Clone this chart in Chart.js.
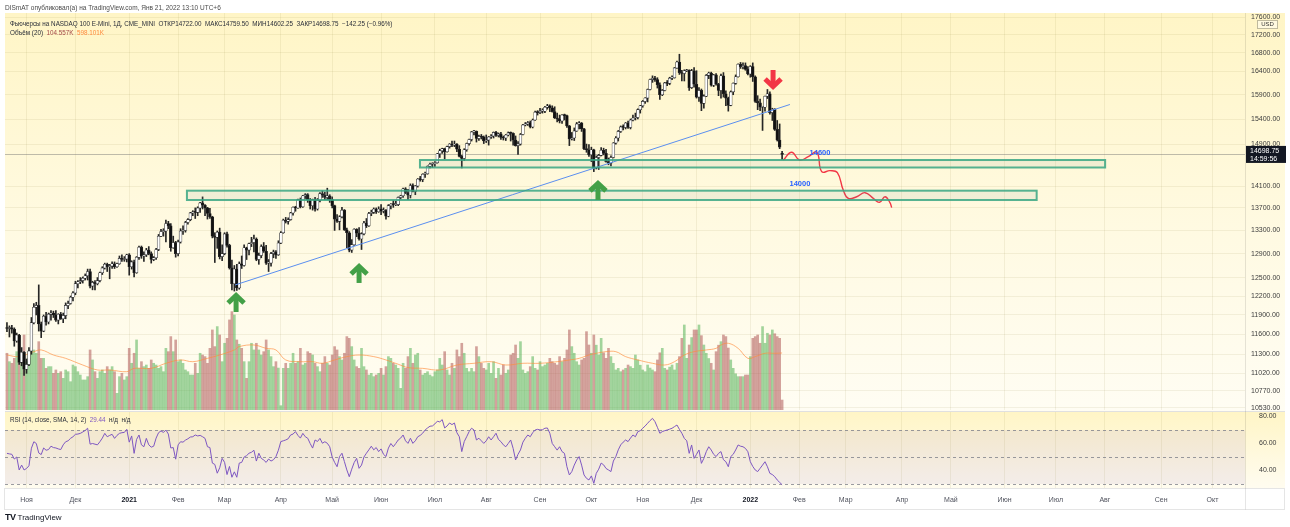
<!DOCTYPE html>
<html lang="ru"><head><meta charset="utf-8"><title>NQ1! daily</title>
<script src="https://cdn.jsdelivr.net/npm/chart.js@4.4.1/dist/chart.umd.min.js"></script>
<style>
html,body{margin:0;padding:0;background:#fff;}
#wrap{position:relative;width:1290px;height:527px;overflow:hidden;background:#fff;font-family:"Liberation Sans",Arial,sans-serif;}
canvas{position:absolute;left:0;}
#cA{top:0;width:1290px;height:411px;}
#cB{top:411px;width:1290px;height:116px;}
.t{position:absolute;white-space:nowrap;font-size:6.5px;line-height:9px;color:#2a2e39;}
</style></head>
<body>
<div id="wrap">
<canvas id="cA" width="1290" height="411"></canvas>
<canvas id="cB" width="1290" height="116"></canvas>
<div class="t" style="left:5px;top:3px;color:#4a4a4a">DISmAT опубликовал(а) на TradingView.com, Янв 21, 2022 13:10 UTC+6</div>
<div class="t" style="left:10px;top:18.5px;font-size:6.3px">Фьючерсы на NASDAQ 100 E-Mini, 1Д, CME_MINI&nbsp;&nbsp;ОТКР14722.00&nbsp;&nbsp;МАКС14759.50&nbsp;&nbsp;МИН14602.25&nbsp;&nbsp;ЗАКР14698.75&nbsp;&nbsp;−142.25 (−0.96%)</div>
<div class="t" style="left:10px;top:27.5px;font-size:6.3px">Объём (20)&nbsp;&nbsp;<span style="color:#a34848">104.557K</span>&nbsp;&nbsp;<span style="color:#ff8a3d">598.101K</span></div>
<div class="t" style="left:10px;top:414.5px;font-size:6.3px">RSI (14, close, SMA, 14, 2)&nbsp;&nbsp;<span style="color:#7e57c2">29.44</span>&nbsp;&nbsp;н/д&nbsp;&nbsp;н/д</div>
<div class="t" style="left:5px;top:512px;font-size:8px;line-height:10px;color:#131722"><b style="font-size:9px;letter-spacing:-0.5px">TV</b> TradingView</div>
</div>
<script>
const FONT = "'Liberation Sans', Arial, sans-serif";

// ---------- data (daily bars, Oct 21 2020 .. Jan 21 2022) ----------
const opens = [
11700,11690,11700,11680,11500,11590,11180,11330,11080,11150,
11350,11780,12020,12050,11760,11650,11880,11790,11910,11930,
11900,11820,11910,11840,11890,12050,12080,12180,12250,12400,
12430,12450,12490,12530,12600,12360,12420,12400,12450,12580,
12660,12720,12680,12690,12730,12680,12730,12820,12800,12810,
12880,12680,12760,12580,12840,13010,12860,12880,12960,12900,
12800,12830,12970,13200,13280,13290,13420,13380,13000,13090,
12900,13100,13290,13300,13440,13490,13610,13630,13620,13700,
13790,13750,13700,13600,13540,13200,13180,13270,12850,12900,
13240,13040,12660,12400,12640,12330,12730,12700,13000,12960,
13070,13090,13150,12800,12870,13020,12940,12740,12740,12900,
12930,12880,13080,13260,13480,13460,13490,13610,13710,13700,
13850,13720,13920,13940,13850,13740,13850,13680,13840,13960,
13930,13890,13920,13850,13740,13500,13460,13540,13660,13310,
13260,12960,13050,13320,13250,13150,13240,13430,13380,13600,
13620,13680,13630,13680,13640,13660,13550,13740,13770,13760,
13760,13890,13920,14050,13980,13930,14110,14000,14100,14230,
14220,14320,14330,14470,14510,14520,14540,14710,14770,14810,
14750,14850,14900,14880,14900,14800,14660,14620,14790,14910,
14990,15140,15150,15010,15050,15040,14960,14980,15040,15060,
15130,15070,15100,15030,15020,15080,15120,15110,14980,14870,
14900,15090,15280,15300,15330,15240,15380,15540,15530,15560,
15560,15640,15670,15630,15550,15420,15400,15360,15480,15470,
15260,15000,15020,15160,15300,15320,15200,14810,14790,14690,
14790,14440,14640,14680,14780,14720,14560,14530,14640,14920,
15020,15150,15240,15230,15320,15230,15380,15420,15430,15590,
15670,15760,15830,16010,16220,16250,16220,16110,15900,15990,
16150,16140,16250,16260,16470,16600,16370,16350,16410,16420,
16050,16410,16120,15850,15990,15720,15870,16310,16360,16100,
16320,16120,15990,16300,15920,15830,15680,15960,16140,16280,
16550,16500,16520,16440,16340,16500,16280,15760,15730,15640,
15640,15870,15920,15530,15600,15190,14980,14722];
const highs = [
11780,11730,11740,11700,11620,11600,11400,11340,11230,11400,
11860,12080,12100,12380,11790,11900,11940,11930,11970,11960,
11970,11920,11940,11930,12090,12120,12200,12270,12440,12450,
12500,12510,12560,12640,12640,12440,12450,12500,12590,12680,
12740,12740,12720,12760,12760,12740,12860,12880,12850,12890,
12900,12780,12790,12850,13030,13030,12930,12990,13020,12930,
12850,12990,13230,13320,13330,13480,13460,13420,13200,13110,
13130,13330,13380,13460,13510,13620,13650,13700,13720,13800,
13900,13760,13710,13690,13550,13260,13290,13340,13050,13260,
13270,13060,12790,12700,12720,12760,12860,13050,13010,13080,
13180,13220,13170,12910,13050,13090,13040,12800,12920,12960,
12950,13120,13280,13500,13530,13520,13620,13720,13730,13860,
13880,13930,13960,13960,13870,13860,13890,13870,13980,14010,
13990,14060,13940,13900,13750,13580,13560,13710,13670,13340,
13280,13140,13330,13330,13350,13260,13460,13510,13620,13660,
13700,13700,13720,13760,13700,13670,13760,13780,13830,13820,
13900,13930,14060,14070,14040,14140,14140,14110,14240,14280,
14330,14360,14480,14530,14540,14560,14720,14800,14820,14820,
14860,14910,14960,14960,14910,14870,14680,14810,14920,15000,
15150,15170,15160,15080,15090,15060,15080,15050,15090,15140,
15150,15120,15130,15060,15090,15140,15140,15120,15060,14950,
15110,15290,15330,15350,15360,15400,15560,15570,15620,15610,
15660,15700,15690,15670,15650,15520,15480,15490,15500,15480,
15270,15130,15220,15330,15350,15330,15210,14900,14890,14840,
14800,14670,14700,14830,14820,14800,14630,14670,14930,15050,
15170,15260,15280,15330,15360,15400,15480,15520,15610,15680,
15780,15840,16020,16230,16300,16290,16260,16150,16010,16160,
16200,16270,16300,16480,16620,16770,16420,16430,16440,16430,
16440,16480,16410,16050,16020,15900,16330,16380,16380,16330,
16350,16140,16340,16370,15980,15850,15980,16150,16320,16560,
16590,16580,16580,16500,16520,16580,16300,15880,15810,15660,
15870,16010,15960,15620,15610,15370,15300,14759.5];
const lows = [
11640,11560,11620,11420,11480,11150,11130,10990,11020,11130,
11300,11760,11900,11650,11550,11640,11740,11760,11820,11860,
11800,11760,11830,11780,11840,12000,12070,12120,12220,12330,
12400,12410,12460,12460,12330,12300,12300,12380,12430,12550,
12640,12600,12480,12650,12650,12670,12720,12770,12770,12760,
12540,12640,12510,12570,12800,12820,12770,12850,12880,12740,
12780,12800,12950,13190,13200,13100,13330,12940,12990,12840,
12860,13080,13230,13270,13410,13470,13560,13510,13560,13620,
13680,13560,13500,13510,13170,12750,12990,12810,12780,12880,
13010,12640,12300,12280,12290,12310,12650,12690,12800,12880,
13020,12930,12780,12720,12830,12920,12720,12600,12690,12830,
12820,12870,13070,13250,13430,13410,13480,13570,13640,13690,
13700,13710,13870,13800,13680,13660,13640,13660,13810,13890,
13850,13850,13800,13700,13300,13440,13310,13520,13300,13000,
12930,12920,13040,13190,13130,12970,13220,13350,13370,13560,
13600,13600,13620,13580,13610,13500,13540,13680,13710,13740,
13740,13860,13890,13960,13850,13880,13990,13940,14080,14190,
14180,14260,14320,14440,14450,14470,14530,14640,14720,14610,
14740,14820,14850,14850,14750,14650,14440,14580,14760,14880,
14960,15080,14940,14970,15000,14910,14930,14880,15010,15020,
15050,15040,14990,14980,14970,15060,14960,14880,14860,14700,
14880,15080,15260,15270,15220,15220,15370,15480,15510,15520,
15530,15600,15550,15540,15410,15340,15320,15310,15380,15230,
14870,14980,14970,15150,15200,15150,14790,14740,14660,14560,
14370,14420,14410,14670,14690,14550,14500,14480,14630,14900,
14960,15130,15180,15200,15210,15200,15360,15380,15400,15520,
15640,15720,15750,16000,16160,16180,16040,15800,15880,15980,
16090,16110,16220,16250,16460,16330,16190,16190,16390,15990,
16030,16060,15830,15760,15570,15620,15860,16240,16080,16070,
16100,15880,15830,15850,15670,15560,15670,15900,16120,16270,
16460,16450,16420,16320,16270,16180,15740,15590,15570,15170,
15560,15820,15500,15370,15170,14960,14810,14602.25];
const closes = [
11690,11700,11680,11500,11590,11180,11330,11080,11150,11350,
11780,12020,12050,11760,11650,11880,11790,11910,11930,11900,
11820,11910,11840,11890,12050,12080,12180,12250,12400,12430,
12450,12490,12530,12600,12360,12420,12400,12450,12580,12660,
12720,12680,12690,12730,12680,12730,12820,12800,12810,12880,
12680,12760,12580,12840,13010,12860,12880,12960,12900,12800,
12830,12970,13200,13280,13290,13420,13380,13000,13090,12900,
13100,13290,13300,13440,13490,13610,13630,13620,13700,13790,
13750,13700,13600,13540,13200,13180,13270,12850,12900,13240,
13040,12660,12400,12640,12330,12730,12700,13000,12960,13070,
13090,13150,12800,12870,13020,12940,12740,12740,12900,12930,
12880,13080,13260,13480,13460,13490,13610,13710,13700,13850,
13720,13920,13940,13850,13740,13850,13680,13840,13960,13930,
13890,13920,13850,13740,13500,13460,13540,13660,13310,13260,
12960,13050,13320,13250,13150,13240,13430,13380,13600,13620,
13680,13630,13680,13640,13660,13550,13740,13770,13760,13760,
13890,13920,14050,13980,13930,14110,14000,14100,14230,14220,
14320,14330,14470,14510,14520,14540,14710,14770,14810,14750,
14850,14900,14880,14900,14800,14660,14620,14790,14910,14990,
15140,15150,15010,15050,15040,14960,14980,15040,15060,15130,
15070,15100,15030,15020,15080,15120,15110,14980,14870,14900,
15090,15280,15300,15330,15240,15380,15540,15530,15560,15560,
15640,15670,15630,15550,15420,15400,15360,15480,15470,15260,
15000,15020,15160,15300,15320,15200,14810,14790,14690,14790,
14440,14640,14680,14780,14720,14560,14530,14640,14920,15020,
15150,15240,15230,15320,15230,15380,15420,15430,15590,15670,
15760,15830,16010,16220,16250,16220,16110,15900,15990,16150,
16140,16250,16260,16470,16600,16370,16350,16410,16420,16050,
16410,16120,15850,15990,15720,15870,16310,16360,16100,16320,
16120,15990,16300,15920,15830,15680,15960,16140,16280,16550,
16500,16520,16440,16340,16500,16280,15760,15730,15640,15640,
15870,15920,15530,15600,15190,14980,14841,14698.75];
// volume, thousands of contracts
const volumes = [
595,507,490,542,612,770,595,787,507,542,
630,630,595,717,542,542,437,455,455,385,
420,385,402,332,420,402,297,472,455,402,
367,315,315,350,630,525,402,332,402,420,
385,455,420,455,402,175,350,385,315,350,
647,490,595,735,437,507,455,472,437,525,
490,472,437,455,402,647,612,770,612,735,
507,525,490,420,402,367,367,490,385,595,
577,560,490,647,840,665,875,787,507,700,
752,945,1032,997,735,690,647,507,332,507,
700,630,700,630,577,612,735,630,560,455,
507,440,45,437,490,437,490,595,490,507,
647,472,490,612,595,577,490,455,402,490,
560,490,472,577,665,630,560,525,595,770,
752,665,525,455,437,647,455,420,367,385,
350,367,385,437,367,455,560,542,490,472,
437,227,490,437,560,647,490,577,595,420,
367,385,402,367,350,402,420,542,472,612,
420,367,490,437,630,560,700,595,437,402,
437,402,665,560,490,437,420,490,385,507,
332,437,367,472,385,420,577,595,682,542,
717,420,385,402,455,560,437,420,507,455,
472,490,542,507,490,472,560,507,542,630,
840,665,595,507,472,525,542,822,682,595,
787,680,577,752,600,542,647,560,490,420,
437,402,420,437,472,455,437,577,525,470,
420,402,472,440,420,402,525,600,647,437,
420,450,472,420,490,560,752,892,542,682,
760,840,840,892,780,682,595,540,490,420,
612,680,717,787,770,650,525,437,380,350,
350,350,367,367,560,752,770,787,700,875,
700,805,787,840,800,770,752,104.557];
// volume SMA(20) (bar index, value)
const volMaIdx = [0,5,11,14,19,24,31,37,42,49,52,59,65,71,76,82,87,93,95,101,106,110,114,120,125,129,134,139,144,150,155,160,164,170,177,184,191,198,204,211,218,225,230,234,238,241,245,249,253,258,264,269,273,277,281,286,290,292,295,299,303,306,310,314,317];
const volMa = [577,560,612,630,577,542,472,420,420,402,437,437,490,525,507,542,577,630,665,682,647,630,525,507,507,490,525,560,577,560,525,480,445,437,420,472,490,507,472,490,490,507,525,542,577,595,612,612,560,525,490,472,507,577,612,630,647,682,700,647,542,560,595,595,598];
const rsi = [
52.7,52.3,52,48.5,50,40.4,44,40.4,41.5,43.5,
56.5,61.3,60,53,51.8,56.7,55,55.5,58,57,
56.7,56,55.5,59,61.3,62,63.8,65,66.8,67,
67.5,68.5,69.7,71.3,59.5,60,59.5,59,61.3,64,
67.5,65,66,66.8,63.8,66,67.5,68,68.2,70.5,
61,65.6,52.7,63,66.3,59,57.6,63.8,59,57.3,
58,64,68,69.3,68.2,70,67,56.7,57,48.4,
59,61.3,61,62.5,63.5,64.8,65,66.3,65.6,66,
65,63.8,57.6,57,45.5,44.5,38,42,49,46,
37,43,35,39,35,45.5,46,50,51,52.8,
53.5,55,47,52.8,49,47.8,46,48.5,47,48,
50.3,55,61.4,62,62.6,63.5,66.3,67,68.8,66,
64,67.5,65,63.9,60,56.6,62.6,61.5,63.8,60.2,
61.3,60.2,57.6,50,46,42.8,50.3,52.8,46.6,40.4,
35.4,41,45.9,49,41.6,44,50,52.8,55.3,58,
55.3,57,54,56,52,50.3,56.6,60,57.6,60,
62.6,64,66.3,62,60.1,63.9,60.1,62,65,66,
67.6,70,71.5,72.8,73,74.5,76.5,76,77.7,71.5,
73,75.2,74,75.2,68,65,54,61.4,65,68.8,
71.3,70,62.6,63.9,62,60.1,62,65,62.6,65,
67.6,63,61.4,59,57.6,60,62.6,56.4,47.8,52,
55.2,61,63.9,66.3,65,68,70,70.5,70,70.2,
71.3,71.5,67.6,60,57.6,55.1,57.6,54,52.7,42.8,
36.7,39.2,44,47.8,50.3,44,36.7,34.2,33,36,
30.5,37.9,41,45.5,44.2,41.5,40.4,39.2,47,50.3,
55.3,59,61,62.6,61.4,64,66.3,65,68.8,69.5,
71.3,73,75,77,78.6,76.2,72,67.6,68.8,69.5,
70,70.6,71.3,72.5,73.7,70.5,67.6,63.8,62,52.7,
58.9,49,52,55.2,45.3,49,54,57.6,55.2,52,
50.3,52.7,54,48,46.5,42.8,50.3,52,55.2,58.9,
58,57.6,56.4,53.9,46.5,43,40.4,39.2,41.6,44,
46.5,42.8,37.9,37,35.4,33,31.2,29.44];

const priceTicks = [17600,17200,16800,16400,15900,15400,14900,14100,13700,13300,12900,12500,12200,11900,11600,11300,11020,10770,10530];
const rsiTicks = [80,60,40];
const rsiLevels = [70,50,30];
const monthIdx = [8,28,50,70,89,112,133,153,175,196,218,239,260,282,304,324,343,366,386,408,429,449,472,493];
const monthLabels = ['Ноя','Дек','2021','Фев','Мар','Апр','Май','Июн','Июл','Авг','Сен','Окт','Ноя','Дек','2022','Фев','Мар','Апр','Май','Июн','Июл','Авг','Сен','Окт'];

// ---------- drawings (in bar-index / price coordinates) ----------
const trendX = [93.3, 320.2];
const trendY = [12379, 15697];
const zones = [
  {x0:168.9, x1:449.1, top:14591, bottom:14448},
  {x0:73.6,  x1:421.1, top:14014, bottom:13843}
];
const arrows = [
  {x:93.7,  y:12233, dir:'up'},
  {x:144.0, y:12709, dir:'up'},
  {x:241.7, y:14176, dir:'up'},
  {x:313.3, y:16041, dir:'down'}
];
const curveX = [317.5,320.9,324.1,327.7,331.2,333.2,336.6,339.6,342.0,344.1,347.5,350.9,354.3,356.8,359.1,361.1,361.8];
const curveY = [14591,14741,14591,14655,14741,14369,14388,14350,14026,13873,13903,13977,13873,13801,13903,13794,13705];
const textMarks = [
  {x:332.5, y:14722, text:'14600'},
  {x:324.3, y:14133, text:'14000'}
];

// ---------- chart setup ----------
Chart.defaults.font.family = FONT;
Chart.defaults.font.size = 7;
const X_MIN = -0.8, X_MAX = 506.3;
const GRID = 'rgba(140,125,60,0.10)';
const n = closes.length;
const isUp = closes.map((c,i)=> c >= opens[i]);
const noPad = s => { s.paddingTop = 0; s.paddingBottom = 0; s.paddingLeft = 0; s.paddingRight = 0; };

const paneA = {
  id:'paneA',
  beforeDraw(c){
    const x=c.ctx; x.save();
    x.fillStyle='#fff'; x.fillRect(0,0,c.width,c.height);
    const g=x.createLinearGradient(0,13,0,411);
    g.addColorStop(0,'#fff5c6'); g.addColorStop(0.55,'#fffae2'); g.addColorStop(1,'#fffdf3');
    x.fillStyle=g; x.fillRect(5,13,1280,398);
    x.restore();
  },
  beforeDatasetsDraw(c){
    const x=c.ctx, a=c.chartArea, ys=c.scales.y;
    const py=Math.round(ys.getPixelForValue(closes[n-1]))+0.5;
    x.save(); x.strokeStyle='rgba(110,110,110,0.45)'; x.lineWidth=1;
    x.beginPath(); x.moveTo(a.left,py); x.lineTo(a.right,py); x.stroke(); x.restore();
  },
  afterDatasetsDraw(c){
    const x=c.ctx, xs=c.scales.x, ys=c.scales.y;
    x.save();
    zones.forEach(z=>{
      const l=xs.getPixelForValue(z.x0), r=xs.getPixelForValue(z.x1);
      const t=ys.getPixelForValue(z.top), b=ys.getPixelForValue(z.bottom);
      x.fillStyle='rgba(120,150,150,0.10)'; x.fillRect(l,t,r-l,b-t);
      x.strokeStyle='rgba(56,166,130,0.85)'; x.lineWidth=2; x.strokeRect(l,t,r-l,b-t);
    });
    arrows.forEach(ar=>{
      const px=xs.getPixelForValue(ar.x), py=ys.getPixelForValue(ar.y);
      const s = ar.dir==='up' ? 1 : -1;
      x.strokeStyle = ar.dir==='up' ? '#43a047' : '#f23645';
      x.lineWidth=5; x.lineCap='butt'; x.lineJoin='miter';
      x.beginPath(); x.moveTo(px, py+s*3); x.lineTo(px, py+s*18); x.stroke();
      x.beginPath(); x.moveTo(px-8, py+s*9); x.lineTo(px, py+s*1.5); x.lineTo(px+8, py+s*9); x.stroke();
    });
    x.fillStyle='#2962ff'; x.font='bold 7.5px '+FONT; x.textAlign='center'; x.textBaseline='middle';
    textMarks.forEach(t=>{ x.fillText(t.text, xs.getPixelForValue(t.x), ys.getPixelForValue(t.y)); });
    x.restore();
  },
  afterDraw(c){
    const x=c.ctx, ys=c.scales.y, a=c.chartArea;
    x.save();
    x.strokeStyle='rgba(0,0,0,0.10)'; x.lineWidth=1;
    x.beginPath(); x.moveTo(a.right+0.5,13); x.lineTo(a.right+0.5,411); x.stroke();
    x.fillStyle='rgba(255,250,225,0.95)'; x.strokeStyle='rgba(0,0,0,0.25)';
    x.fillRect(1257.5,20.5,20,8); x.strokeRect(1257.5,20.5,20,8);
    x.fillStyle='#333'; x.font='6px '+FONT; x.textAlign='center'; x.textBaseline='middle';
    x.fillText('USD',1267.5,24.8);
    const py=ys.getPixelForValue(closes[n-1]);
    x.fillStyle='#131722'; x.fillRect(1246,py-8.5,40,17);
    x.fillStyle='#fff'; x.font='7px '+FONT; x.textAlign='left';
    x.fillText(closes[n-1].toFixed(2),1250,py-3.6);
    x.fillText('14:59:56',1250,py+4.4);
    x.restore();
  }
};

new Chart(document.getElementById('cA'), {
  type:'bar',
  data:{ datasets:[
    { type:'bar', data: closes.map((c,i)=>({x:i, y:[lows[i],highs[i]]})), backgroundColor:'#262626',
      barThickness:1, grouped:false, yAxisID:'y', order:3 },
    { type:'bar', data: closes.map((c,i)=>({x:i, y:[opens[i],c]})),
      backgroundColor: isUp.map(u=>u?'#ffffff':'#111111'), borderColor:'#2a2a2a', borderWidth:0.6,
      borderSkipped:false, barThickness:2.8, minBarLength:1, grouped:false, yAxisID:'y', order:2 },
    { type:'bar', data: volumes.map((v,i)=>({x:i, y:v})),
      backgroundColor: isUp.map(u=>u?'rgba(76,175,80,0.52)':'rgba(170,78,78,0.52)'),
      barThickness:2, grouped:false, yAxisID:'yv', order:10 },
    { type:'line', data: volMaIdx.map((v,k)=>({x:v, y:volMa[k]})), borderColor:'rgba(255,140,60,0.65)',
      borderWidth:1, pointRadius:0, tension:0.4, yAxisID:'yv', order:9 },
    { type:'line', data: trendX.map((v,k)=>({x:v, y:trendY[k]})), borderColor:'#5b8ff0',
      borderWidth:1, pointRadius:0, yAxisID:'y', order:1 },
    { type:'line', data: curveX.map((v,k)=>({x:v, y:curveY[k]})), borderColor:'#f23645',
      borderWidth:1.4, pointRadius:0, tension:0.45, yAxisID:'y', order:0 }
  ]},
  options:{
    responsive:false, animation:false, devicePixelRatio:1,
    layout:{padding:{left:5, top:13, right:0, bottom:1}},
    plugins:{legend:{display:false}, tooltip:{enabled:false}},
    scales:{
      x:{ type:'linear', min:X_MIN, max:X_MAX, offset:false,
          afterBuildTicks:s=>{ s.ticks = monthIdx.map(v=>({value:v})); },
          ticks:{display:false}, grid:{color:GRID, drawTicks:false, offset:false},
          border:{display:false}, afterFit:s=>{ s.height=0; noPad(s); } },
      y:{ type:'logarithmic', position:'right', min:10501, max:17705, bounds:'data',
          afterBuildTicks:s=>{ s.ticks = priceTicks.map(v=>({value:v})); },
          ticks:{ autoSkip:false, callback:v=>Number(v).toFixed(2), color:'#3c3c3c', padding:6, font:{size:7} },
          grid:{color:GRID, drawTicks:false}, border:{display:false}, afterFit:s=>{ s.width=45; noPad(s); } },
      yv:{ type:'linear', display:false, min:0, max:4165 }
    }
  },
  plugins:[paneA]
});

const paneB = {
  id:'paneB',
  beforeDraw(c){
    const x=c.ctx, a=c.chartArea, ys=c.scales.y; x.save();
    x.fillStyle='#fff'; x.fillRect(0,0,c.width,c.height);
    const g=x.createLinearGradient(0,1,0,77);
    g.addColorStop(0,'#fff5c6'); g.addColorStop(1,'#fffcf0');
    x.fillStyle=g; x.fillRect(5,1,1280,76);
    const t=ys.getPixelForValue(70), b=ys.getPixelForValue(30);
    x.fillStyle='rgba(126,87,194,0.09)'; x.fillRect(a.left,t,a.right-a.left,b-t);
    x.strokeStyle='rgba(0,0,0,0.12)'; x.lineWidth=1;
    x.beginPath(); x.moveTo(5,0.5); x.lineTo(1285,0.5); x.stroke();
    x.restore();
  },
  beforeDatasetsDraw(c){
    const x=c.ctx, a=c.chartArea, ys=c.scales.y; x.save();
    x.strokeStyle='rgba(120,123,134,0.75)'; x.lineWidth=1; x.setLineDash([3,3]);
    rsiLevels.forEach(v=>{ const py=Math.round(ys.getPixelForValue(v))+0.5;
      x.beginPath(); x.moveTo(a.left,py); x.lineTo(a.right,py); x.stroke(); });
    x.restore();
  },
  afterDraw(c){
    const x=c.ctx, a=c.chartArea; x.save();
    x.strokeStyle='rgba(0,0,0,0.10)'; x.lineWidth=1;
    x.beginPath(); x.moveTo(a.right+0.5,0); x.lineTo(a.right+0.5,98.5); x.stroke();
    x.strokeRect(4.5,a.bottom+0.5,1280,21);
    x.restore();
  }
};

new Chart(document.getElementById('cB'), {
  type:'line',
  data:{ datasets:[
    { data: rsi.map((v,i)=>({x:i, y:v})), borderColor:'#7e57c2', borderWidth:1, pointRadius:0, tension:0 }
  ]},
  options:{
    responsive:false, animation:false, devicePixelRatio:1,
    layout:{padding:{left:5, top:1, right:0, bottom:17}},
    plugins:{legend:{display:false}, tooltip:{enabled:false}},
    scales:{
      x:{ type:'linear', min:X_MIN, max:X_MAX, offset:false,
          afterBuildTicks:s=>{ s.ticks = monthIdx.map(v=>({value:v})); },
          ticks:{ autoSkip:false, maxRotation:0, padding:7.5,
                  callback:(v,i)=>monthLabels[i],
                  color:ctx=> /^20/.test(monthLabels[ctx.index]) ? '#131722' : '#50535e',
                  font:ctx=>({size:7, weight: /^20/.test(monthLabels[ctx.index]) ? 'bold':'normal'}) },
          grid:{color:GRID, drawTicks:false, offset:false}, border:{display:false},
          afterFit:s=>{ s.height=22; noPad(s); } },
      y:{ type:'linear', position:'right', min:27.04, max:83.33,
          afterBuildTicks:s=>{ s.ticks = rsiTicks.map(v=>({value:v})); },
          ticks:{ autoSkip:false, callback:v=>Number(v).toFixed(2), color:'#3c3c3c', padding:6, font:{size:7} },
          grid:{display:false}, border:{display:false}, afterFit:s=>{ s.width=45; noPad(s); } }
    }
  },
  plugins:[paneB]
});
</script>
</body></html>
